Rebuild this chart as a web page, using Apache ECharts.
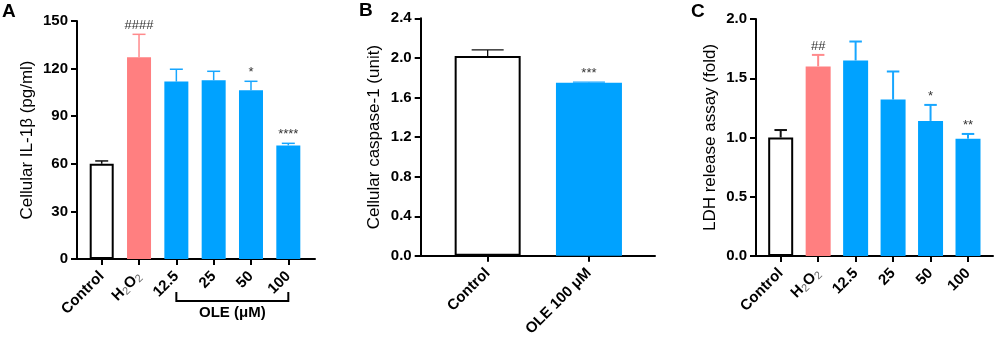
<!DOCTYPE html>
<html>
<head>
<meta charset="utf-8">
<script src="https://cdn.jsdelivr.net/npm/echarts@6/dist/echarts.min.js"></script>
<style>
  html, body { margin: 0; padding: 0; background: #fff; }
  #chart { width: 996px; height: 339px; }
</style>
</head>
<body>
<div id="chart"></div>
<script>
// ---------- data ----------
const categoriesA = ['Control', 'H2O2', '12.5', '25', '50', '100'];
const meanA = [60.0, 127.1, 111.8, 112.6, 106.3, 71.6];
const sdA = [1.8, 14.5, 7.8, 5.7, 5.7, 1.3];
const signifA = ['', '####', '', '', '*', '****'];
const groupA = ['control', 'model', 'ole', 'ole', 'ole', 'ole'];
const yTicksA = { min: 0, max: 150, step: 30 };

const categoriesB = ['Control', 'OLE 100 μM'];
const meanB = [2.02, 1.75];
const sdB = [0.06, 0.005];
const signifB = ['', '***'];
const groupB = ['control', 'ole'];
const yTicksB = { min: 0, max: 2.4, step: 0.4 };

const categoriesC = ['Control', 'H2O2', '12.5', '25', '50', '100'];
const meanC = [1.00, 1.60, 1.65, 1.32, 1.14, 0.99];
const sdC = [0.063, 0.097, 0.16, 0.237, 0.135, 0.04];
const signifC = ['', '##', '', '', '*', '**'];
const groupC = ['control', 'model', 'ole', 'ole', 'ole', 'ole'];
const yTicksC = { min: 0, max: 2.0, step: 0.5 };

const bracketA = { from: 2, to: 5, label: 'OLE (μM)' };

const yNameA = 'Cellular IL-1β (pg/ml)';
const yNameB = 'Cellular caspase-1 (unit)';
const yNameC = 'LDH release assay (fold)';
const panelLetters = ['A', 'B', 'C'];

// ---------- styles ----------
const FONT = '"Liberation Sans", Arial, Helvetica, sans-serif';
const barStyle = {
  control: { color: '#ffffff', borderColor: '#000000', borderWidth: 2 },
  model: { color: '#FF7F80', borderWidth: 0 },
  ole: { color: '#00A2FF', borderWidth: 0 }
};
const errColor = { control: '#111111', model: '#FF8A8C', ole: '#17A6FF' };

function catLabel(cats) {
  return function (v) {
    const i = Math.round(v);
    const c = cats[i];
    if (c === undefined) return '';
    if (c === 'H2O2') return '{h|H}{s|2}{h|O}{s|2}';
    return '{h|' + c + '}';
  };
}
const richLabel = {
  h: { fontFamily: FONT, fontSize: 15, fontWeight: 'bold', color: '#000', lineHeight: 18 },
  s: { fontFamily: FONT, fontSize: 11, fontWeight: 'normal', color: '#666', lineHeight: 11, verticalAlign: 'bottom' }
};

function xAxisFor(gridIndex, cats, min, max) {
  const idx = cats.map((_, i) => i);
  return {
    type: 'value', gridIndex, min, max,
    splitLine: { show: false },
    axisLine: { show: true, onZero: false, lineStyle: { color: '#000', width: 2 } },
    axisTick: { show: true, length: 6, customValues: idx, lineStyle: { color: '#000', width: 2 } },
    axisLabel: {
      show: true, customValues: idx, rotate: 45, margin: 15,
      formatter: catLabel(cats), rich: richLabel
    }
  };
}
function yAxisFor(gridIndex, t, name, gap) {
  return {
    type: 'value', gridIndex, min: t.min, max: t.max, interval: t.step,
    name, nameLocation: 'middle', nameGap: gap, nameRotate: 90,
    nameTextStyle: { fontFamily: FONT, fontSize: 17, color: '#000' },
    splitLine: { show: false },
    axisLine: { show: true, onZero: false, lineStyle: { color: '#000', width: 2 } },
    axisTick: { show: true, length: 6, lineStyle: { color: '#000', width: 2 } },
    axisLabel: {
      margin: 9, fontFamily: FONT, fontSize: 15, fontWeight: 'bold', color: '#000',
      formatter: v => (t.step < 1 ? v.toFixed(1) : String(v))
    }
  };
}
function barSeries(idx, means, groups, width) {
  return {
    type: 'bar', xAxisIndex: idx, yAxisIndex: idx, barWidth: width, z: 2,
    data: means.map((m, i) => ({ value: [i, m], itemStyle: barStyle[groups[i]] }))
  };
}
function errSeries(idx, means, sds, sig, groups, capW, lw) {
  return {
    type: 'custom', xAxisIndex: idx, yAxisIndex: idx, z: 3, clip: false,
    data: means.map((m, i) => [i, m, m + sds[i]]),
    renderItem: function (params, api) {
      const i = params.dataIndex;
      const p0 = api.coord([api.value(0), api.value(1)]);
      const p1 = api.coord([api.value(0), api.value(2)]);
      const col = errColor[groups[i]];
      const st = { stroke: col, lineWidth: lw };
      const children = [
        { type: 'line', shape: { x1: p0[0], y1: p0[1], x2: p1[0], y2: p1[1] }, style: st },
        { type: 'line', shape: { x1: p1[0] - capW / 2, y1: p1[1], x2: p1[0] + capW / 2, y2: p1[1] }, style: st }
      ];
      if (sig[i]) {
        children.push({
          type: 'text', x: p1[0], y: p1[1] - 2,
          style: { text: sig[i], align: 'center', verticalAlign: 'bottom',
                   fontFamily: FONT, fontSize: 13, fill: '#333' }
        });
      }
      return { type: 'group', children };
    }
  };
}
function bracketSeries(idx, br) {
  return {
    type: 'custom', xAxisIndex: idx, yAxisIndex: idx, clip: false, silent: true,
    data: [[br.from, br.to]],
    renderItem: function (params, api) {
      const a = api.coord([api.value(0), 0]);
      const b = api.coord([api.value(1), 0]);
      const yLine = a[1] + 42, yTop = a[1] + 33;
      const st = { stroke: '#000', lineWidth: 2, fill: null };
      return { type: 'group', children: [
        { type: 'polyline', shape: { points: [[a[0], yTop], [a[0], yLine], [b[0], yLine], [b[0], yTop]] }, style: st },
        { type: 'text', x: (a[0] + b[0]) / 2, y: yLine + 12,
          style: { text: br.label, align: 'center', verticalAlign: 'middle',
                   fontFamily: FONT, fontSize: 15, fontWeight: 'bold', fill: '#000' } }
      ] };
    }
  };
}

const chart = echarts.init(document.getElementById('chart'), null, { renderer: 'canvas' });
chart.setOption({
  backgroundColor: '#fff',
  animation: false,
  title: [
    { text: panelLetters[0], left: 2, top: 2 },
    { text: panelLetters[1], left: 359, top: 1 },
    { text: panelLetters[2], left: 691, top: 2 }
  ].map(t => Object.assign(t, { padding: 0, textStyle: { fontFamily: FONT, fontSize: 19, fontWeight: 'bold', color: '#000' } })),
  grid: [
    { left: 77, top: 21, width: 238, height: 238 },
    { left: 420.7, top: 18.3, width: 234.3, height: 237.7 },
    { left: 756, top: 19, width: 237, height: 237 }
  ],
  xAxis: [
    xAxisFor(0, categoriesA, -0.662, 5.715),
    xAxisFor(1, categoriesB, -0.661, 1.652),
    xAxisFor(2, categoriesC, -0.659, 5.667)
  ],
  yAxis: [
    yAxisFor(0, yTicksA, yNameA, 41),
    yAxisFor(1, yTicksB, yNameB, 38),
    yAxisFor(2, yTicksC, yNameC, 37)
  ],
  series: [
    barSeries(0, meanA, groupA, 24),
    errSeries(0, meanA, sdA, signifA, groupA, 13, 1.5),
    bracketSeries(0, bracketA),
    barSeries(1, meanB, groupB, 66),
    errSeries(1, meanB, sdB, signifB, groupB, 32, 1.3),
    barSeries(2, meanC, groupC, 25),
    errSeries(2, meanC, sdC, signifC, groupC, 12.5, 2)
  ]
});
</script>
</body>
</html>
